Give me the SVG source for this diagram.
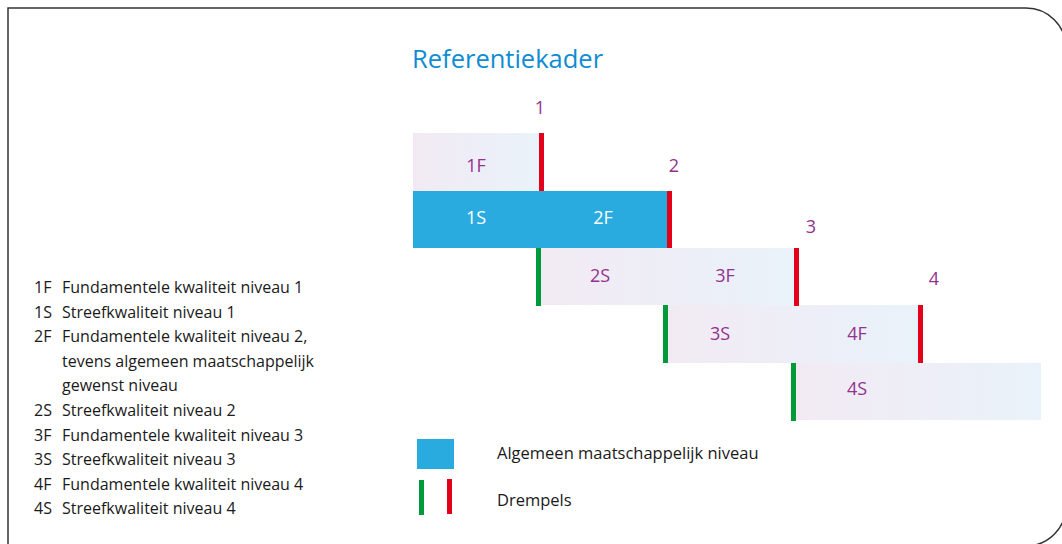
<svg xmlns="http://www.w3.org/2000/svg" width="1062" height="544" viewBox="0 0 1062 544">
<style>
text{font-family:"Open Sans","Noto Sans","Liberation Sans",sans-serif;}
.title{font-size:25.5px;fill:#0f8cd2;}
.lbl{font-size:18px;fill:#93328e;text-anchor:middle;}
.wlbl{font-size:18px;fill:#ffffff;text-anchor:middle;}
.num{font-size:18px;fill:#93328e;text-anchor:middle;}
.leg{font-size:16px;fill:#1a1a1a;}
.key{font-size:16.5px;fill:#1a1a1a;}
.box{fill:url(#g);}
.red{fill:#e2001a;}
.green{fill:#009a3a;}
.blue{fill:#29abe0;}
</style>
<defs>
<linearGradient id="g" x1="0" y1="0" x2="1" y2="0">
<stop offset="0" stop-color="#f2eaf3"/>
<stop offset="1" stop-color="#e9f2fa"/>
</linearGradient>
</defs>
<path d="M8,546 V8 H1026 A40,40 0 0 1 1066,48 V506 A40,40 0 0 1 1026,546 Z" fill="none" stroke="#333" stroke-width="1.5"/>
<text class="title" x="412" y="68">Referentiekader</text>

<g id="level1">
<rect class="box" x="413" y="133" width="126" height="58"/>
<text class="lbl" x="476" y="172">1F</text>
</g>
<g id="level2">
<rect class="blue" x="413" y="191" width="255" height="57"/>
<text class="wlbl" x="476" y="224">1S</text>
<text class="wlbl" x="603" y="224">2F</text>
</g>
<g id="level3">
<rect class="box" x="540" y="248" width="255" height="57"/>
<text class="lbl" x="600" y="282">2S</text>
<text class="lbl" x="725" y="282">3F</text>
</g>
<g id="level4">
<rect class="box" x="667" y="305" width="251" height="58"/>
<text class="lbl" x="720" y="340">3S</text>
<text class="lbl" x="857" y="340">4F</text>
</g>
<g id="level5">
<rect class="box" x="795" y="363" width="246" height="57"/>
<text class="lbl" x="857" y="395">4S</text>
</g>

<g id="thresholds">
<rect class="red" x="539" y="133" width="5" height="58"/>
<rect class="red" x="667" y="191" width="5" height="57"/>
<rect class="red" x="794" y="248" width="5" height="58"/>
<rect class="red" x="918" y="305" width="5" height="58"/>
<rect class="green" x="536" y="248" width="5" height="58"/>
<rect class="green" x="663" y="305" width="5" height="58"/>
<rect class="green" x="791" y="363" width="5" height="58"/>
<text class="num" x="540" y="114">1</text>
<text class="num" x="674" y="172">2</text>
<text class="num" x="811" y="233">3</text>
<text class="num" x="934" y="285">4</text>
</g>

<g id="legend-codes">
<text class="leg" x="34" y="293">1F</text><text class="leg" x="62" y="293">Fundamentele kwaliteit niveau 1</text>
<text class="leg" x="34" y="317.6">1S</text><text class="leg" x="62" y="317.6">Streefkwaliteit niveau 1</text>
<text class="leg" x="34" y="342.2">2F</text><text class="leg" x="62" y="342.2">Fundamentele kwaliteit niveau 2,</text>
<text class="leg" x="62" y="366.8">tevens algemeen maatschappelijk</text>
<text class="leg" x="62" y="391.4">gewenst niveau</text>
<text class="leg" x="34" y="416">2S</text><text class="leg" x="62" y="416">Streefkwaliteit niveau 2</text>
<text class="leg" x="34" y="440.6">3F</text><text class="leg" x="62" y="440.6">Fundamentele kwaliteit niveau 3</text>
<text class="leg" x="34" y="465.2">3S</text><text class="leg" x="62" y="465.2">Streefkwaliteit niveau 3</text>
<text class="leg" x="34" y="489.8">4F</text><text class="leg" x="62" y="489.8">Fundamentele kwaliteit niveau 4</text>
<text class="leg" x="34" y="514.4">4S</text><text class="leg" x="62" y="514.4">Streefkwaliteit niveau 4</text>
</g>

<g id="legend-key">
<rect class="blue" x="417" y="439" width="37" height="30"/>
<text class="key" x="497" y="459">Algemeen maatschappelijk niveau</text>
<rect class="green" x="419" y="480" width="5" height="35"/>
<rect class="red" x="447" y="479" width="5" height="35"/>
<text class="key" x="497" y="506">Drempels</text>
</g>
</svg>
